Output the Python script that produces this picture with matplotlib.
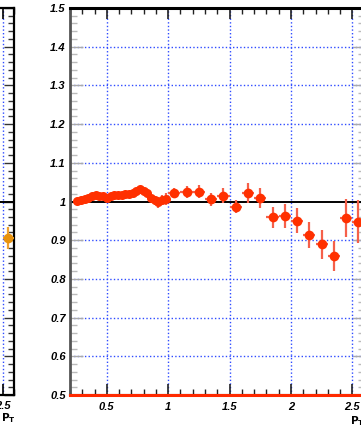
import matplotlib
matplotlib.use("Agg")
import matplotlib.pyplot as plt
from matplotlib.ticker import MultipleLocator, FuncFormatter

# ---------------- data ----------------
pt_fine = [0.26, 0.29, 0.32, 0.35, 0.38, 0.41, 0.44, 0.47, 0.50, 0.53, 0.56, 0.59,
           0.62, 0.65, 0.68, 0.71, 0.74, 0.77, 0.80, 0.83, 0.86, 0.89, 0.92, 0.95, 0.98]
ratio_fine = [1.002, 1.004, 1.006, 1.010, 1.014, 1.016, 1.015, 1.013, 1.010, 1.013, 1.017, 1.018,
              1.016, 1.019, 1.020, 1.022, 1.028, 1.033, 1.027, 1.022, 1.008, 1.003, 0.998, 1.004, 1.006]
err_fine = [0.005, 0.005, 0.005, 0.005, 0.005, 0.005, 0.005, 0.005, 0.006, 0.006, 0.006, 0.006,
            0.006, 0.007, 0.007, 0.007, 0.008, 0.008, 0.009, 0.009, 0.010, 0.012, 0.014, 0.014, 0.015]

pt_coarse = [1.05, 1.15, 1.25, 1.35, 1.45, 1.55, 1.65, 1.75, 1.85, 1.95, 2.05, 2.15, 2.25, 2.35, 2.45, 2.55]
ratio_coarse = [1.021, 1.025, 1.025, 1.006, 1.015, 0.987, 1.021, 1.010, 0.959, 0.963,
                0.950, 0.913, 0.889, 0.860, 0.957, 0.948]
err_coarse = [0.013, 0.015, 0.017, 0.017, 0.020, 0.018, 0.026, 0.026, 0.027, 0.031,
              0.032, 0.034, 0.037, 0.039, 0.049, 0.055]

# left (partially visible) panel
pt_left = [2.55]
ratio_left = [0.905]
err_left = [0.028]

x_ticks = [0.5, 1, 1.5, 2, 2.5]
y_ticks = [0.5, 0.6, 0.7, 0.8, 0.9, 1.0, 1.1, 1.2, 1.3, 1.4, 1.5]

# ---------------- figure ----------------
W, H = 361, 428
fig = plt.figure(figsize=(W / 100, H / 100), dpi=100)

def frac_x(px):
    return px / W

def frac_y(py):  # py measured from the top
    return 1 - py / H

top_px, bot_px = 8, 395
grid_kw = dict(color="#2f4cff", linewidth=1.0, linestyle=(0, (1, 1.6)))
fmt = FuncFormatter(lambda v, p: "%g" % v)
tick_font = dict(family="Liberation Sans", style="italic", weight="bold", size=8)

# ---- main panel ----
left_px, right_px = 70, 364.6
ax = fig.add_axes([frac_x(left_px), frac_y(bot_px),
                   (right_px - left_px) / W, (bot_px - top_px) / H])
ax.set_xlim(0.2, 2.6)
ax.set_ylim(0.5, 1.5)

for xv in x_ticks:
    ax.axvline(xv, zorder=1, **grid_kw)
for yv in y_ticks[1:-1]:
    if abs(yv - 1.0) > 1e-9:
        ax.axhline(yv, zorder=1, **grid_kw)
ax.axhline(1.0, color="black", linewidth=1.4, zorder=2)

ecol = "#f5604a"
mcol = "#ff3000"
ax.errorbar(pt_fine, ratio_fine, yerr=err_fine, xerr=0.015, fmt="o", color=mcol,
            ecolor=ecol, elinewidth=1.6, markersize=6.5, markeredgewidth=0, zorder=3)
ax.errorbar(pt_coarse, ratio_coarse, yerr=err_coarse, xerr=0.05, fmt="o", color=mcol,
            ecolor=ecol, elinewidth=1.6, markersize=7, markeredgewidth=0, zorder=3)

ax.axhline(0.5, color="#ff2a00", linewidth=2.2, zorder=4, clip_on=False)

ax.xaxis.set_major_locator(MultipleLocator(0.5))
ax.xaxis.set_minor_locator(MultipleLocator(0.1))
ax.yaxis.set_major_locator(MultipleLocator(0.1))
ax.yaxis.set_minor_locator(MultipleLocator(0.02))
ax.xaxis.set_major_formatter(fmt)
ax.yaxis.set_major_formatter(fmt)
ax.tick_params(axis="x", which="major", direction="in", length=8, width=1.2, color="#222222",
               top=True, bottom=True, pad=5)
ax.tick_params(axis="x", which="minor", direction="in", length=4, width=1.0, color="#222222",
               top=True, bottom=True)
ax.tick_params(axis="y", which="major", direction="in", length=9, width=1.0, color="#aaaaaa",
               left=True, right=True, pad=3)
ax.tick_params(axis="y", which="minor", direction="in", length=5, width=1.0, color="#bbbbbb",
               left=True, right=True)
for lab in ax.get_xticklabels() + ax.get_yticklabels():
    lab.set_fontproperties(matplotlib.font_manager.FontProperties(**tick_font))
ax.spines["left"].set_color("#555555")
ax.spines["left"].set_linewidth(2.0)
ax.spines["top"].set_color("black")
ax.spines["top"].set_linewidth(2.2)
ax.spines["bottom"].set_color("black")
ax.spines["bottom"].set_linewidth(1.5)
ax.spines["right"].set_color("#999999")

fig.text(frac_x(350), frac_y(421.5), r"$\mathbf{P}_{\mathbf{T}}$", fontsize=7.5,
         ha="left", va="center")

# ---- left partial panel ----
lp_right = 14
lp_width = 264
axl = fig.add_axes([frac_x(lp_right - lp_width), frac_y(bot_px),
                    lp_width / W, (bot_px - top_px) / H])
axl.set_xlim(0.2, 2.6)
axl.set_ylim(0.5, 1.5)
axl.axvline(2.5, zorder=1, **grid_kw)
axl.axhline(1.0, color="black", linewidth=1.4, zorder=2)
axl.errorbar(pt_left, ratio_left, yerr=err_left, xerr=0.05, fmt="o", color="#e8920c",
             ecolor="#eea030", elinewidth=1.6, markersize=7, markeredgewidth=0, zorder=3)
axl.xaxis.set_major_locator(MultipleLocator(0.5))
axl.xaxis.set_minor_locator(MultipleLocator(0.1))
axl.yaxis.set_major_locator(MultipleLocator(0.1))
axl.yaxis.set_minor_locator(MultipleLocator(0.02))
axl.xaxis.set_major_formatter(FuncFormatter(lambda v, p: "%g" % v if abs(v - 2.5) < 1e-9 else ""))
axl.tick_params(axis="x", which="major", direction="in", length=8, width=1.2, top=True, pad=4)
axl.tick_params(axis="x", which="minor", direction="in", length=4, width=1.0, top=True)
axl.tick_params(axis="y", which="major", direction="in", length=7, width=1.0, color="#333333",
                left=False, right=True, labelleft=False)
axl.tick_params(axis="y", which="minor", direction="in", length=4, width=1.0, color="#333333",
                left=False, right=True)
for lab in axl.get_xticklabels():
    lab.set_fontproperties(matplotlib.font_manager.FontProperties(**tick_font))
for s in axl.spines.values():
    s.set_linewidth(1.6)
fig.text(frac_x(1), frac_y(418), r"$\mathbf{P}_{\mathbf{T}}$", fontsize=7.5,
         ha="left", va="center")

fig.savefig("out.png", dpi=100)
